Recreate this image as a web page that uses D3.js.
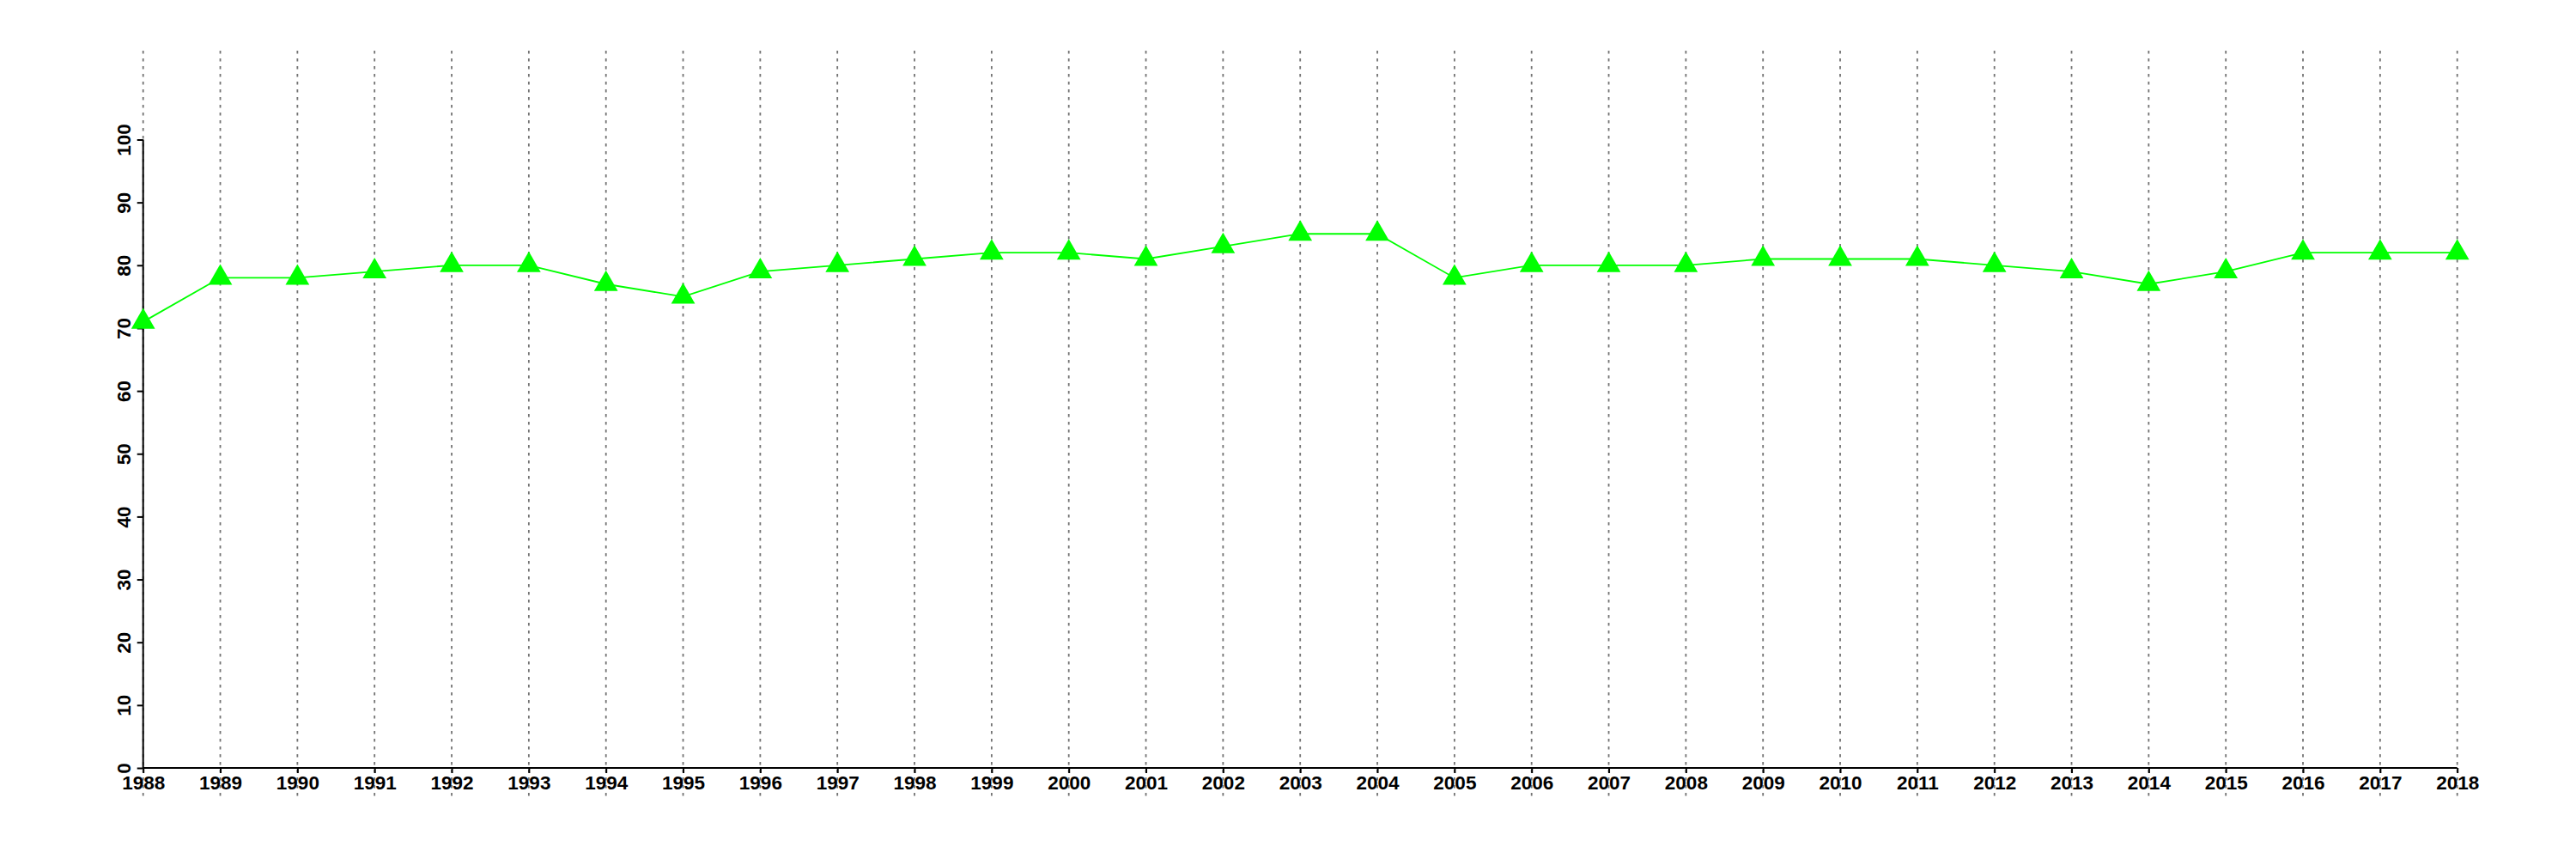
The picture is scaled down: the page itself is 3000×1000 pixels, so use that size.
<!DOCTYPE html>
<html>
<head>
<meta charset="utf-8">
<script src="https://cdn.jsdelivr.net/npm/d3@7"></script>
<style>
  html, body { margin: 0; padding: 0; background: #fff; }
  svg { display: block; }
</style>
</head>
<body>
<script>
const years = [1988,1989,1990,1991,1992,1993,1994,1995,1996,1997,1998,1999,2000,2001,2002,2003,2004,2005,2006,2007,2008,2009,2010,2011,2012,2013,2014,2015,2016,2017,2018];
const values = [71,78,78,79,80,80,77,75,79,80,81,82,82,81,83,85,85,78,80,80,80,81,81,81,80,79,77,79,82,82,82];
const yTicks = [0,10,20,30,40,50,60,70,80,90,100];

const W = 3000, H = 1000;
const svg = d3.select("body").append("svg").attr("width", W).attr("height", H);

const x = d3.scaleLinear().domain([1988, 2018]).range([166.7, 2861.7]);
const y = d3.scaleLinear().domain([0, 100]).range([894, 162.5]);

const font = "'Liberation Sans', Arial, Helvetica, sans-serif";

// vertical dotted grid lines
svg.append("g").selectAll("line").data(years).join("line")
  .attr("x1", d => x(d)).attr("x2", d => x(d))
  .attr("y1", 59).attr("y2", 927)
  .attr("stroke", "#737373").attr("stroke-width", 1.8)
  .attr("stroke-dasharray", "3.5,5.5");

// x axis
const xAxis = d3.axisBottom(x).tickValues(years).tickFormat(d3.format("d")).tickSize(6).tickPadding(4);
const gx = svg.append("g").attr("transform", `translate(0,${y(0)})`).call(xAxis);
gx.select(".domain").attr("stroke", "#000").attr("stroke-width", 2).attr("d", `M${x(1988)},0H${x(2018)}`);
gx.selectAll(".tick line").attr("stroke", "#000").attr("stroke-width", 2);
gx.selectAll(".tick text")
  .attr("font-family", font).attr("font-weight", "bold").attr("font-size", "22.5px")
  .attr("fill", "#000").attr("dy", "0.71em").attr("y", 9);

// y axis
const yAxis = d3.axisLeft(y).tickValues(yTicks).tickSize(7).tickPadding(0);
const gy = svg.append("g").attr("transform", `translate(${x(1988)},0)`).call(yAxis);
gy.select(".domain").attr("stroke", "#000").attr("stroke-width", 2).attr("d", `M0,${y(0)}V${y(100)}`);
gy.selectAll(".tick line").attr("stroke", "#000").attr("stroke-width", 2);
gy.selectAll(".tick text")
  .attr("font-family", font).attr("font-weight", "bold").attr("font-size", "22.5px")
  .attr("fill", "#000")
  .attr("x", null).attr("dy", null)
  .attr("text-anchor", "middle")
  .attr("transform", "translate(-15,0) rotate(-90)");

// line
const line = d3.line().x((d, i) => x(years[i])).y(d => y(d));
svg.append("path").datum(values)
  .attr("d", line)
  .attr("fill", "none").attr("stroke", "#00ff00").attr("stroke-width", 1.8);

// triangle markers
const tri = d3.symbol().type(d3.symbolTriangle).size(333);
svg.append("g").selectAll("path").data(values).join("path")
  .attr("d", tri)
  .attr("transform", (d, i) => `translate(${x(years[i])},${y(d)})`)
  .attr("fill", "#00ff00");
</script>
</body>
</html>
